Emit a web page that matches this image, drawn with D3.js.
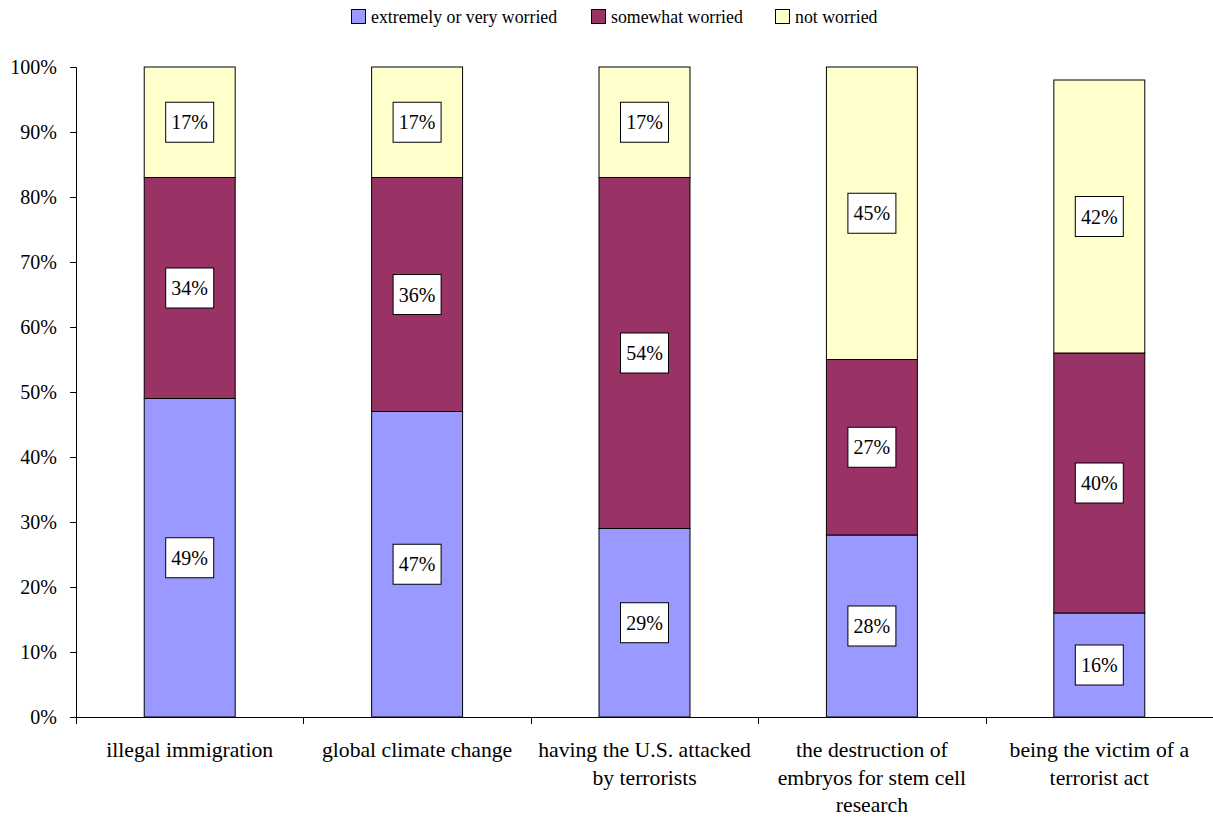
<!DOCTYPE html>
<html>
<head>
<meta charset="utf-8">
<script src="https://cdn.jsdelivr.net/npm/d3@7"></script>
<style>
  html, body { margin: 0; padding: 0; background: #fff; }
  svg text { font-family: "Liberation Serif", "Times New Roman", serif; fill: #000; }
</style>
</head>
<body>
<svg id="chart" width="1213" height="817"></svg>
<script>
// Survey: how worried people are about each issue (percent of respondents)
const categories = [
  ["illegal immigration"],
  ["global climate change"],
  ["having the U.S. attacked", "by terrorists"],
  ["the destruction of", "embryos for stem cell", "research"],
  ["being the victim of a", "terrorist act"]
];
const seriesNames = ["extremely or very worried", "somewhat worried", "not worried"];
const veryWorried     = [49, 47, 29, 28, 16];
const somewhatWorried = [34, 36, 54, 27, 40];
const notWorried      = [17, 17, 17, 45, 42];
const yTicks = [0, 10, 20, 30, 40, 50, 60, 70, 80, 90, 100];
const colors = ["#9999FF", "#993366", "#FFFFCC"];

const svg = d3.select("#chart");
const W = 1213;
const plotLeft = 76, plotTop = 67, plotBottom = 717;

const x = d3.scaleBand()
  .domain(d3.range(categories.length))
  .range([plotLeft, W])
  .paddingInner(0).paddingOuter(0);
const barW = x.bandwidth() * 0.4;

const y = d3.scaleLinear().domain([0, 100]).range([plotBottom, plotTop]);

// stacked data
const rows = categories.map((c, i) => ({
  i, s0: veryWorried[i], s1: somewhatWorried[i], s2: notWorried[i]
}));
const stack = d3.stack().keys(["s0", "s1", "s2"])(rows);

// Y axis
const yAxis = d3.axisLeft(y).tickValues(yTicks).tickFormat(d => d + "%").tickSize(6).tickPadding(13);
const ya = svg.append("g").attr("transform", `translate(${plotLeft},0)`).call(yAxis);
ya.attr("font-family", null).attr("font-size", null);
ya.select(".domain").attr("stroke", "#000");
ya.selectAll(".tick line").attr("stroke", "#000");
ya.selectAll(".tick text").style("font-size", "20px");

// X axis baseline with tick marks between categories
const xa = svg.append("g");
xa.append("line")
  .attr("x1", plotLeft).attr("x2", W)
  .attr("y1", plotBottom + 0.5).attr("y2", plotBottom + 0.5)
  .attr("stroke", "#000");
d3.range(categories.length).forEach(i => {
  const tx = Math.round(x(i)) + 0.5;
  xa.append("line").attr("x1", tx).attr("x2", tx)
    .attr("y1", plotBottom).attr("y2", plotBottom + 7).attr("stroke", "#000");
});

// Bars
stack.forEach((layer, k) => {
  svg.append("g").selectAll("rect").data(layer).join("rect")
    .attr("x", d => x(d.data.i) + (x.bandwidth() - barW) / 2)
    .attr("y", d => y(d[1]))
    .attr("width", barW)
    .attr("height", d => y(d[0]) - y(d[1]))
    .attr("fill", colors[k])
    .attr("stroke", "#000")
    .attr("stroke-width", 1);
});

// Value labels in white boxes
stack.forEach((layer, k) => {
  const g = svg.append("g").selectAll("g").data(layer).join("g")
    .attr("transform", d => `translate(${x(d.data.i) + x.bandwidth() / 2},${y((d[0] + d[1]) / 2)})`);
  g.append("rect")
    .attr("x", -24).attr("y", -20).attr("width", 48).attr("height", 40)
    .attr("fill", "#fff").attr("stroke", "#000").attr("stroke-width", 1);
  g.append("text")
    .attr("text-anchor", "middle")
    .attr("dy", "0.35em")
    .style("font-size", "20px")
    .text(d => (d[1] - d[0]) + "%");
});

// Category labels
const cl = svg.append("g").selectAll("text").data(categories).join("text")
  .attr("text-anchor", "middle")
  .attr("x", (d, i) => x(i) + x.bandwidth() / 2)
  .attr("y", 757)
  .style("font-size", "21.7px");
cl.each(function(lines) {
  const t = d3.select(this);
  lines.forEach((ln, j) => {
    t.append("tspan").attr("x", t.attr("x")).attr("dy", j === 0 ? 0 : 27.5).text(ln);
  });
});

// Legend
const legendX = [351, 591, 775];
const lg = svg.append("g").selectAll("g").data(seriesNames).join("g")
  .attr("transform", (d, i) => `translate(${legendX[i]},9)`);
lg.append("rect").attr("x", 0.5).attr("y", 0.5).attr("width", 14).attr("height", 14)
  .attr("fill", (d, i) => colors[i]).attr("stroke", "#000");
lg.append("text").attr("x", 20).attr("y", 14).style("font-size", "17.8px").text(d => d);
</script>
</body>
</html>
